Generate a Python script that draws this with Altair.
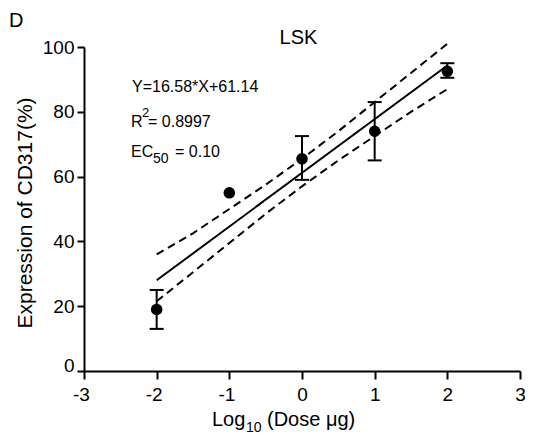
import altair as alt
import pandas as pd

# ---- data ----
dose = [-2, -1, 0, 1, 2]
mean = [19.0, 55.0, 65.5, 74.0, 92.5]
err_low = [13.0, 55.0, 59.0, 65.0, 90.5]
err_high = [25.0, 55.0, 72.5, 83.0, 95.0]

fit_x = [-2, 2]
fit_y = [28.0, 94.3]

band_x = [-2, -1.5, -1, -0.5, 0, 0.5, 1, 1.5, 2]
band_upper = [36.0, 42.5, 50.0, 57.5, 65.5, 74.0, 83.0, 92.0, 101.0]
band_lower = [21.5, 30.5, 39.5, 48.5, 57.0, 65.0, 72.5, 80.0, 87.0]

x_ticks = [-3, -2, -1, 0, 1, 2, 3]
y_ticks = [0, 20, 40, 60, 80, 100]

FONT = "Liberation Sans"

pts = pd.DataFrame({"dose": dose, "mean": mean, "lo": err_low, "hi": err_high})
fit = pd.DataFrame({"x": fit_x, "y": fit_y})
band = pd.DataFrame({"x": band_x, "upper": band_upper, "lower": band_lower})
one = pd.DataFrame({"a": [0]})

xscale = alt.Scale(domain=[-3, 3], nice=False, zero=False)
yscale = alt.Scale(domain=[0, 100], nice=False, zero=False)

xaxis = alt.Axis(
    values=x_ticks, title=None, grid=False,
    domainColor="black", domainWidth=2,
    tickColor="black", tickWidth=2, tickSize=8,
    labelFont=FONT, labelFontSize=19, labelColor="black", labelPadding=6,
    labelFlush=False, labelOverlap=False,
    labelExpr="datum.value < 0 ? '-' + abs(datum.value) : '' + datum.value",
    labelOffset={"condition": {"test": "datum.value < 0", "value": -3}, "value": 0},
)
yaxis = alt.Axis(
    values=y_ticks, title=None, grid=False,
    domainColor="black", domainWidth=2,
    tickColor="black", tickWidth=2, tickSize=7,
    labelFont=FONT, labelFontSize=19, labelColor="black", labelPadding=3,
    labelFlush=False, labelOverlap=False,
    labelBaseline={"condition": {"test": "datum.value == 0", "value": "alphabetic"}, "value": "middle"},
)


def X(f):
    return alt.X(f + ":Q", scale=xscale, axis=xaxis)


def Y(f):
    return alt.Y(f + ":Q", scale=yscale, axis=yaxis)


upper = alt.Chart(band).mark_line(color="black", strokeWidth=2, strokeDash=[8, 5]).encode(x=X("x"), y=Y("upper"))
lower = alt.Chart(band).mark_line(color="black", strokeWidth=2, strokeDash=[8, 5]).encode(x=X("x"), y=Y("lower"))
fitline = alt.Chart(fit).mark_line(color="black", strokeWidth=2).encode(x=X("x"), y=Y("y"))

err = alt.Chart(pts).transform_filter("datum.hi > datum.lo")
rules = err.mark_rule(color="black", strokeWidth=2).encode(x=X("dose"), y=Y("lo"), y2="hi:Q")
cap_lo = err.mark_tick(color="black", orient="horizontal", size=14, thickness=2, opacity=1).encode(x=X("dose"), y=Y("lo"))
cap_hi = err.mark_tick(color="black", orient="horizontal", size=14, thickness=2, opacity=1).encode(x=X("dose"), y=Y("hi"))
dots = alt.Chart(pts).mark_circle(color="black", size=135, opacity=1).encode(x=X("dose"), y=Y("mean"))


def txt(s, x, y, size, align="left", angle=0):
    kw = dict(text=s, font=FONT, fontSize=size, color="black", align=align, baseline="alphabetic")
    if angle:
        kw["angle"] = angle
    return alt.Chart(one).mark_text(**kw).encode(x=alt.value(x), y=alt.value(y))


texts = [
    txt("D", -75, -20, 20),
    txt("LSK", 214.5, -3, 20, align="center"),
    txt("Y=16.58*X+61.14", 48, 45, 16),
    txt("R", 47, 80, 16),
    txt("2", 58, 70, 13),
    txt("= 0.8997", 64, 80, 16),
    txt("EC", 47, 110, 16),
    txt("50", 69, 116, 14),
    txt("= 0.10", 91, 110, 16),
    txt("Log", 128, 379, 20),
    txt("10", 162, 385, 14),
    txt("(Dose μg)", 183, 379, 20),
    txt("Expression of CD317(%)", -52, 166, 21, align="center", angle=270),
]

chart = alt.layer(upper, lower, fitline, rules, cap_lo, cap_hi, dots, *texts).properties(
    width=436, height=324,
    autosize=alt.AutoSizeParams(type="none"),
    padding={"left": 76, "top": 39, "right": 5, "bottom": 65},
).configure_view(stroke=None)

chart.save("out.html", embed_options={"renderer": "svg", "actions": False})
